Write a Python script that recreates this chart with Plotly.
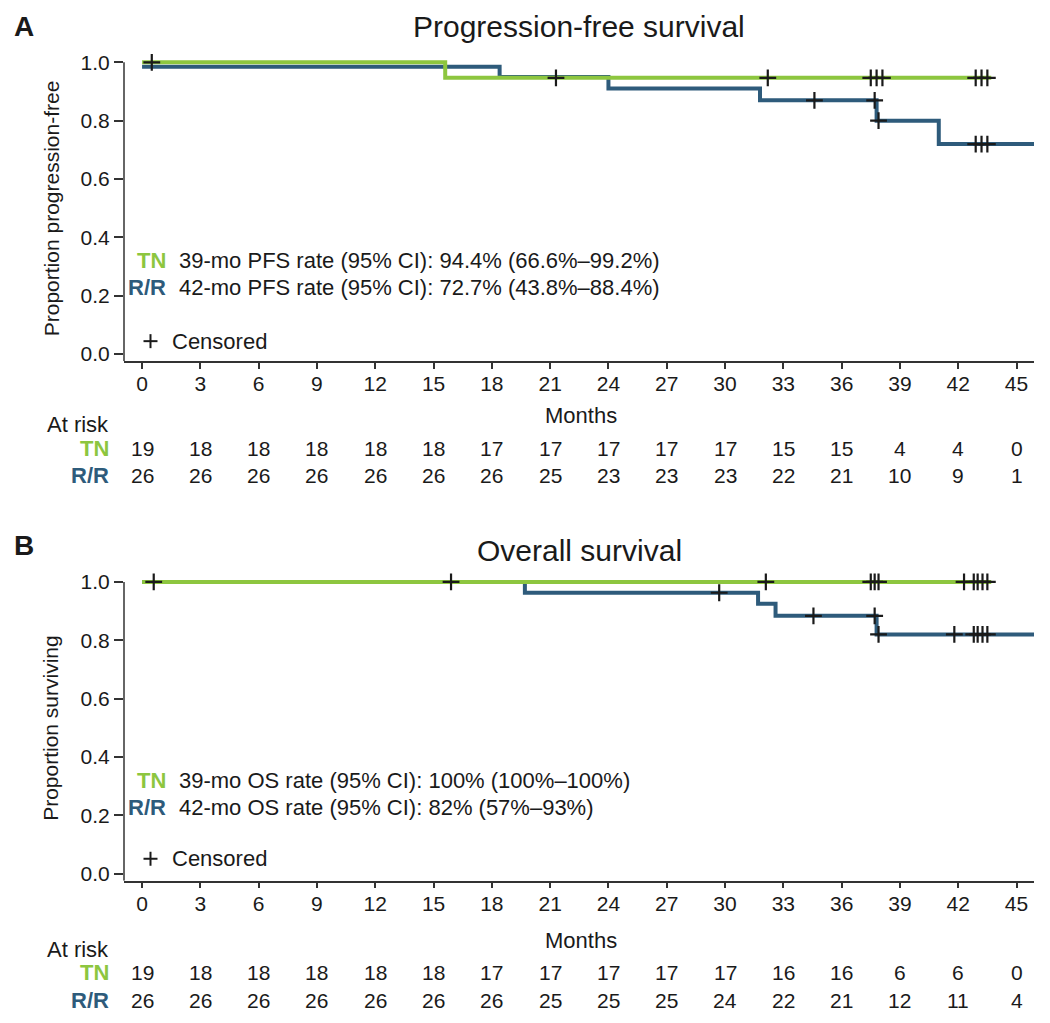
import plotly.graph_objects as go

# ---------------- data ----------------
months_ticks = [0, 3, 6, 9, 12, 15, 18, 21, 24, 27, 30, 33, 36, 39, 42, 45]

# Panel A: progression-free survival
pfs_tn_t = [0, 15.6, 43.7]
pfs_tn_s = [1.0, 0.947, 0.947]
pfs_rr_t = [0, 18.4, 24.0, 31.8, 37.8, 41.0, 45.9]
pfs_rr_s = [0.985, 0.95, 0.91, 0.87, 0.80, 0.72, 0.72]
pfs_tn_cens = [0.5, 21.3, 32.2, 37.5, 37.8, 38.1, 42.9, 43.2, 43.5]
pfs_rr_cens = [34.6, 37.7, 37.9, 42.9, 43.2, 43.5]
pfs_tn_risk = [19, 18, 18, 18, 18, 18, 17, 17, 17, 17, 17, 15, 15, 4, 4, 0]
pfs_rr_risk = [26, 26, 26, 26, 26, 26, 26, 25, 23, 23, 23, 22, 21, 10, 9, 1]

# Panel B: overall survival
os_tn_t = [0, 43.7]
os_tn_s = [1.0, 1.0]
os_rr_t = [0, 19.7, 31.7, 32.6, 37.8, 45.9]
os_rr_s = [1.0, 0.963, 0.925, 0.884, 0.82, 0.82]
os_tn_cens = [0.6, 15.9, 32.1, 37.5, 37.7, 37.9, 42.3, 42.8, 43.0, 43.25, 43.5]
os_rr_cens = [29.7, 34.55, 37.7, 37.9, 41.8, 42.8, 43.0, 43.25, 43.5]
os_tn_risk = [19, 18, 18, 18, 18, 18, 17, 17, 17, 17, 17, 16, 16, 6, 6, 0]
os_rr_risk = [26, 26, 26, 26, 26, 26, 26, 25, 25, 25, 24, 22, 21, 12, 11, 4]

pfs_texts = ["39-mo PFS rate (95% CI): 94.4% (66.6%\u201399.2%)",
             "42-mo PFS rate (95% CI): 72.7% (43.8%\u201388.4%)"]
os_texts = ["39-mo OS rate (95% CI): 100% (100%\u2013100%)",
            "42-mo OS rate (95% CI): 82% (57%\u201393%)"]

GREEN = "#8DC63F"
BLUE = "#2E5B7B"
INK = "#1a1a1a"
FONT = "Liberation Sans, Arial, Helvetica, sans-serif"

W, H = 1050, 1023
XR = [-0.93, 45.9]
YR = [-0.024, 1.015]

# observed page placement of the figure: page = fig_px * (1, SY) + (OX, OY)
OX, OY, SY = 8.0, 14.6, 0.990


def step_at(ts, ss, t):
    v = ss[0]
    for ti, si in zip(ts, ss):
        if ti <= t:
            v = si
    return v


def px(x):
    return (x - OX) / W


def py(y):
    return 1 - ((y - OY) / SY) / H


fig = go.Figure()

panels = [
    dict(xa="x", ya="y", top=57.6, bot=361,
         tn=(pfs_tn_t, pfs_tn_s, pfs_tn_cens), rr=(pfs_rr_t, pfs_rr_s, pfs_rr_cens),
         risk=(pfs_tn_risk, pfs_rr_risk), texts=pfs_texts,
         title="Progression-free survival", title_y=26, letter="A", letter_y=26.5,
         ytitle="Proportion progression-free",
         txt_y=(260.7, 287.7), cens_y=341, months_y=415, risk_y=(424.3, 448.3, 475.7)),
    dict(xa="x2", ya="y2", top=577.6, bot=881,
         tn=(os_tn_t, os_tn_s, os_tn_cens), rr=(os_rr_t, os_rr_s, os_rr_cens),
         risk=(os_tn_risk, os_rr_risk), texts=os_texts,
         title="Overall survival", title_y=551, letter="B", letter_y=545.5,
         ytitle="Proportion surviving",
         txt_y=(780.7, 807.7), cens_y=859, months_y=941, risk_y=(950, 973.3, 1001)),
]

annotations = []
shapes = []

for i, p in enumerate(panels):
    xa, ya = p["xa"], p["ya"]
    for (ts, ss, cens), col in [(p["rr"], BLUE), (p["tn"], GREEN)]:
        fig.add_trace(go.Scatter(x=ts, y=ss, mode="lines", line_shape="hv",
                                 line=dict(color=col, width=4),
                                 xaxis=xa, yaxis=ya, showlegend=False, hoverinfo="skip"))
    for (ts, ss, cens) in [p["rr"], p["tn"]]:
        fig.add_trace(go.Scatter(x=cens, y=[step_at(ts, ss, c) for c in cens], mode="markers",
                                 marker=dict(symbol="cross-thin", size=12,
                                             line=dict(color=INK, width=2.2)),
                                 xaxis=xa, yaxis=ya, showlegend=False, hoverinfo="skip",
                                 cliponaxis=False))

    sfx = "" if i == 0 else "2"
    axis_common = dict(showgrid=False, zeroline=False, ticks="outside",
                       tickcolor="#333", tickfont=dict(family=FONT, size=21, color=INK))
    fig.update_layout(**{
        "xaxis" + sfx: dict(domain=[px(124), px(1034)], range=XR, tickvals=months_ticks,
                            showline=True, linecolor="#333", linewidth=1.5,
                            ticklen=6, tickwidth=1.5, anchor=ya, ticklabelstandoff=-3,
                            **axis_common),
        "yaxis" + sfx: dict(domain=[py(p["bot"]), py(p["top"])], range=YR,
                            tickvals=[0, 0.2, 0.4, 0.6, 0.8, 1.0], tickformat=".1f",
                            showline=False, ticklen=9, tickwidth=1.5, anchor=xa, **axis_common),
    })
    # y axis line from bottom up to 1.0
    shapes.append(dict(type="line", xref=xa + " domain", yref=ya, x0=0, x1=0,
                       y0=YR[0], y1=1.0, line=dict(color="#333", width=1.5)))

    # titles
    annotations.append(dict(text=p["title"], xref="paper", yref="paper", x=px(579), y=py(p["title_y"]),
                            xanchor="center", yanchor="middle", showarrow=False,
                            font=dict(family=FONT, size=30, color=INK)))
    annotations.append(dict(text="<b>%s</b>" % p["letter"], xref="paper", yref="paper", x=px(12),
                            y=py(p["letter_y"]), xanchor="left", yanchor="middle", showarrow=False,
                            font=dict(family=FONT, size=28, color=INK)))
    annotations.append(dict(text=p["ytitle"], xref="paper", yref="paper", x=px(51),
                            y=py((p["top"] + 4.4 + p["bot"] - 7) / 2), textangle=-90,
                            xanchor="center", yanchor="middle", showarrow=False,
                            font=dict(family=FONT, size=21, color=INK)))
    # rate texts
    for lab, col, txt, yy in [("TN", GREEN, p["texts"][0], p["txt_y"][0]),
                              ("R/R", BLUE, p["texts"][1], p["txt_y"][1])]:
        annotations.append(dict(text="<b>%s</b>" % lab, xref="paper", yref="paper", x=px(168), y=py(yy),
                                xanchor="right", yanchor="middle", showarrow=False,
                                font=dict(family=FONT, size=22, color=col)))
        annotations.append(dict(text=txt, xref="paper", yref="paper", x=px(177), y=py(yy),
                                xanchor="left", yanchor="middle", showarrow=False,
                                font=dict(family=FONT, size=22, color=INK)))
    # censored legend
    cy = p["cens_y"]
    shapes.append(dict(type="line", xref="paper", yref="paper", x0=px(143.5), x1=px(157.5),
                       y0=py(cy), y1=py(cy), line=dict(color=INK, width=2)))
    shapes.append(dict(type="line", xref="paper", yref="paper", x0=px(150.5), x1=px(150.5),
                       y0=py(cy - 7), y1=py(cy + 7), line=dict(color=INK, width=2)))
    annotations.append(dict(text="Censored", xref="paper", yref="paper", x=px(170), y=py(cy),
                            xanchor="left", yanchor="middle", showarrow=False,
                            font=dict(family=FONT, size=22, color=INK)))
    # months label
    annotations.append(dict(text="Months", xref="paper", yref="paper", x=px(581), y=py(p["months_y"]),
                            xanchor="center", yanchor="middle", showarrow=False,
                            font=dict(family=FONT, size=22, color=INK)))
    # at risk table
    ry = p["risk_y"]
    annotations.append(dict(text="At risk", xref="paper", yref="paper", x=px(111), y=py(ry[0]),
                            xanchor="right", yanchor="middle", showarrow=False,
                            font=dict(family=FONT, size=22, color=INK)))
    for lab, col, vals, yy in [("TN", GREEN, p["risk"][0], ry[1]), ("R/R", BLUE, p["risk"][1], ry[2])]:
        annotations.append(dict(text="<b>%s</b>" % lab, xref="paper", yref="paper", x=px(111), y=py(yy),
                                xanchor="right", yanchor="middle", showarrow=False,
                                font=dict(family=FONT, size=22, color=col)))
        for t, v in zip(months_ticks, vals):
            annotations.append(dict(text=str(v), xref=xa, yref="paper", x=t, y=py(yy),
                                    xanchor="center", yanchor="middle", showarrow=False,
                                    font=dict(family=FONT, size=21, color=INK)))

fig.update_layout(width=W, height=H, margin=dict(l=0, r=0, t=0, b=0),
                  paper_bgcolor="white", plot_bgcolor="white",
                  annotations=annotations, shapes=shapes, showlegend=False)

fig.write_html("out.html")
